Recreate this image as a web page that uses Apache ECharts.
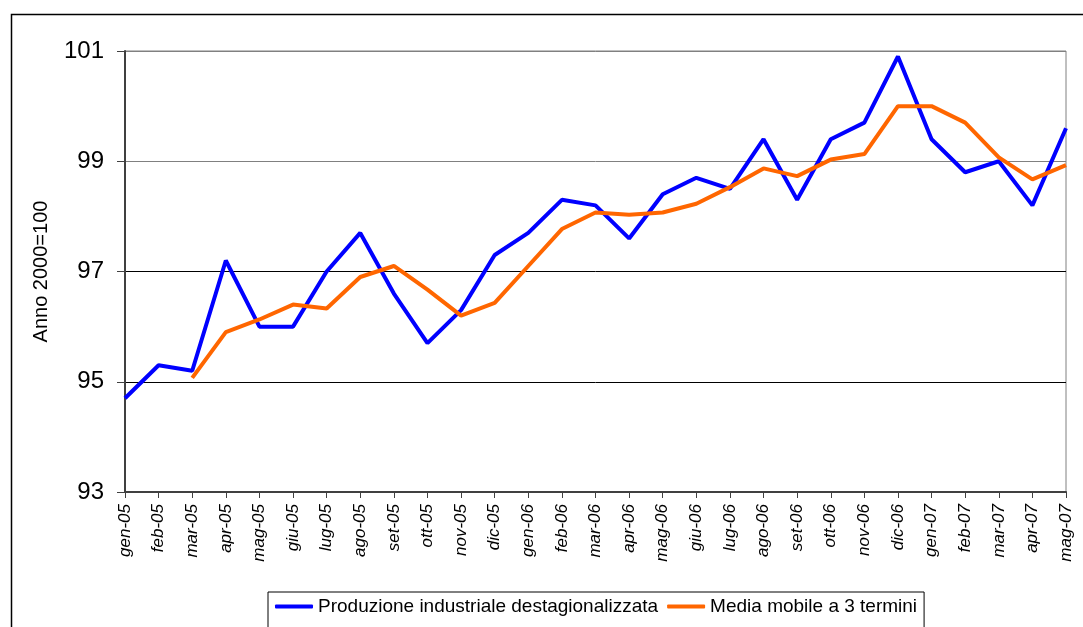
<!DOCTYPE html>
<html>
<head>
<meta charset="utf-8">
<script src="https://cdn.jsdelivr.net/npm/echarts@6/dist/echarts.min.js"></script>
<style>
html,body{margin:0;padding:0;background:#fff;}
#chart{width:1083px;height:627px;}
</style>
</head>
<body>
<div id="chart"></div>
<script>
const months = ['gen-05','feb-05','mar-05','apr-05','mag-05','giu-05','lug-05','ago-05','set-05','ott-05','nov-05','dic-05',
  'gen-06','feb-06','mar-06','apr-06','mag-06','giu-06','lug-06','ago-06','set-06','ott-06','nov-06','dic-06',
  'gen-07','feb-07','mar-07','apr-07','mag-07'];
const production = [94.7,95.3,95.2,97.2,96.0,96.0,97.0,97.7,96.6,95.7,96.3,97.3,
  97.7,98.3,98.2,97.6,98.4,98.7,98.5,99.4,98.3,99.4,99.7,100.9,
  99.4,98.8,99.0,98.2,99.6];
const movingAvg = [null,null,95.07,95.9,96.13,96.4,96.33,96.9,97.1,96.67,96.2,96.43,
  97.1,97.77,98.07,98.03,98.07,98.23,98.53,98.87,98.73,99.03,99.13,100.0,
  100.0,99.7,99.07,98.67,98.93];
const seriesNames = ['Produzione industriale destagionalizzata','Media mobile a 3 termini'];
const yTitle = 'Anno 2000=100';

const FONT = "'Liberation Sans', Arial, sans-serif";
const chart = echarts.init(document.getElementById('chart'), null, {renderer:'canvas'});
chart.setOption({
  animation: false,
  backgroundColor: '#fff',
  graphic: [{
    type: 'rect', left: 9, top: 12, silent: true,
    shape: {x: 0, y: 0, width: 1200, height: 700},
    style: {fill: 'none', stroke: '#000', lineWidth: 1.5}
  }],
  grid: {left: 125, top: 51, right: 17, bottom: 135, show: true, borderColor: '#808080', borderWidth: 1, backgroundColor: 'transparent'},
  legend: {
    left: 268, top: 592,
    padding: [5, 7, 40, 7],
    borderColor: '#000', borderWidth: 1,
    itemGap: 9, itemWidth: 38, itemHeight: 4,
    icon: 'roundRect',
    textStyle: {fontFamily: FONT, fontSize: 19, color: '#000'},
    data: seriesNames
  },
  xAxis: {
    type: 'category', data: months, boundaryGap: false,
    axisLine: {lineStyle: {color: '#404040', width: 2}},
    axisTick: {show: true, length: 6, inside: false, alignWithLabel: true, lineStyle: {color: '#404040', width: 1}},
    axisLabel: {rotate: 90, margin: 12, interval: 0, fontFamily: FONT, fontSize: 17, fontStyle: 'italic', color: '#000'},
    splitLine: {show: false}
  },
  yAxis: {
    type: 'value', min: 93, max: 101, interval: 2,
    name: yTitle, nameLocation: 'middle', nameGap: 74, nameRotate: 90,
    nameTextStyle: {fontFamily: FONT, fontSize: 20, color: '#000'},
    axisLine: {show: true, lineStyle: {color: '#404040', width: 2}},
    axisTick: {show: true, length: 8, inside: false, lineStyle: {color: '#404040', width: 1}},
    axisLabel: {margin: 21, fontFamily: FONT, fontSize: 24, color: '#000'},
    splitLine: {show: true, lineStyle: {color: ['#000','#000','#000','#808080','#808080'], width: 1}}
  },
  series: [
    {name: seriesNames[0], type: 'line', data: production, symbol: 'none', showSymbol: false,
     lineStyle: {color: '#0000FF', width: 4}, itemStyle: {color: '#0000FF'}, z: 3},
    {name: seriesNames[1], type: 'line', data: movingAvg, symbol: 'none', showSymbol: false, connectNulls: false,
     lineStyle: {color: '#FF6600', width: 4}, itemStyle: {color: '#FF6600'}, z: 4}
  ]
});
</script>
</body>
</html>
